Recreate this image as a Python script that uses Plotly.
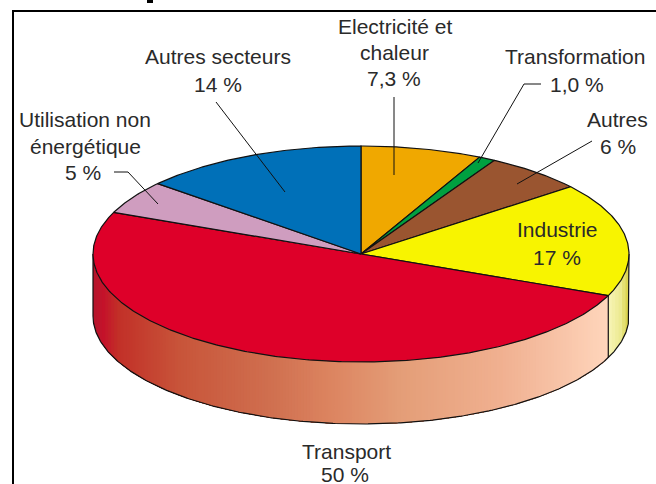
import math
import plotly.graph_objects as go

categories = ["Electricité et chaleur", "Transformation", "Autres", "Industrie",
              "Transport", "Utilisation non énergétique", "Autres secteurs"]
values = [7.3, 1.0, 6, 17, 50, 5, 14]
colors = ["#f0a800", "#00a040", "#9a5530", "#f8f400", "#de0029", "#cf9dbf", "#0070b8"]

# side-wall shading stops: fraction across the visible wall -> colour
wall_stops = {
    "Transport": [(0.0, "#b5162c"), (0.02, "#c4122a"), (0.05, "#c23028"), (0.17, "#c8553a"),
                  (0.35, "#d07050"), (0.46, "#dc8460"), (0.60, "#e49e78"), (0.79, "#f0b090"),
                  (0.91, "#f8c4a8"), (1.0, "#ffd6bc")],
    "Industrie": [(0.0, "#f8f5b8"), (0.6, "#ecea90"), (1.0, "#d6ce40")],
}

label_lines = [
    ("Autres secteurs", 218, 56), ("14 %", 218, 84),
    ("Utilisation non", 85, 119), ("énergétique", 85, 146), ("5 %", 83, 172),
    ("Electricité et", 395, 26), ("chaleur", 394, 52), ("7,3 %", 394, 78),
    ("Transformation", 575, 56), ("1,0 %", 577, 84),
    ("Autres", 617, 119), ("6 %", 618, 146),
    ("Industrie", 557, 229), ("17 %", 557, 257),
    ("Transport", 346, 451), ("50 %", 345, 474),
]
leaders = [
    [(216, 102), (285, 192)],
    [(114, 172), (128, 172), (158, 204)],
    [(394, 97), (394, 175)],
    [(541, 84), (524, 84), (478, 163)],
    [(592, 141), (517, 184)],
]

CX, CY, RX, RY, DEPTH = 361, 254, 268, 108, 62


def pt(deg, dy=0):
    t = math.radians(deg)
    return CX + RX * math.sin(t), CY - RY * math.cos(t) + dy


def hex2rgb(h):
    return tuple(int(h[i:i + 2], 16) for i in (1, 3, 5))


def shade(stops, f):
    for (a, ca), (b, cb) in zip(stops, stops[1:]):
        if f <= b:
            k = (f - a) / (b - a) if b > a else 0
            r1, r2 = hex2rgb(ca), hex2rgb(cb)
            return "rgb(%d,%d,%d)" % tuple(round(p + (q - p) * k) for p, q in zip(r1, r2))
    return stops[-1][1]


edges = [0]
for v in values:
    edges.append(min(360, edges[-1] + v * 3.6))
edges[-1] = 360

fig = go.Figure()
outline = dict(color="#111111", width=1.2)


def wedge_arc(a, b):
    n = max(2, int(abs(b - a)) * 2)
    return [a + (b - a) * i / n for i in range(n + 1)]


# side wall: painted left to right, each strip reaching the wedge's right end so no seams show
for name, a, b in zip(categories, edges[:-1], edges[1:]):
    lo, hi = max(a, 90), min(b, 270)
    if hi <= lo or name not in wall_stops:
        continue
    xa, xb = pt(hi)[0], pt(lo)[0]
    step = 3
    n = max(2, int((xb - xa) / step))
    for i in range(n):
        xs = xa + (xb - xa) * i / n
        # wall angle at this horizontal position
        d0 = 180 - math.degrees(math.asin(max(-1, min(1, (xs - CX) / RX))))
        d0 = max(lo, min(hi, d0)) if lo >= 90 else d0
        arc = wedge_arc(lo, d0)
        top = [pt(d) for d in arc]
        bot = [pt(d, DEPTH) for d in reversed(arc)]
        poly = top + bot + [top[0]]
        fig.add_trace(go.Scatter(x=[p[0] for p in poly], y=[p[1] for p in poly], mode="lines",
                                 fill="toself", fillcolor=shade(wall_stops[name], (i + 0.5) / n),
                                 line=dict(width=0), hoverinfo="skip", showlegend=False))

# wall outlines
arc = wedge_arc(90, 270)
low = [pt(d, DEPTH) for d in arc]
fig.add_trace(go.Scatter(x=[pt(90)[0]] + [p[0] for p in low] + [pt(270)[0]],
                         y=[pt(90)[1]] + [p[1] for p in low] + [pt(270)[1]],
                         mode="lines", line=outline, hoverinfo="skip", showlegend=False))
sep = edges[4]
fig.add_trace(go.Scatter(x=[pt(sep)[0], pt(sep, DEPTH)[0]], y=[pt(sep)[1], pt(sep, DEPTH)[1]],
                         mode="lines", line=outline, hoverinfo="skip", showlegend=False))

# top face wedges
for name, col, a, b in zip(categories, colors, edges[:-1], edges[1:]):
    arc = [pt(d) for d in wedge_arc(a, b)]
    poly = [(CX, CY)] + arc + [(CX, CY)]
    fig.add_trace(go.Scatter(x=[p[0] for p in poly], y=[p[1] for p in poly], mode="lines",
                             fill="toself", fillcolor=col, line=outline, name=name,
                             hoverinfo="name", showlegend=False))

# leader lines
for pts in leaders:
    fig.add_trace(go.Scatter(x=[p[0] for p in pts], y=[p[1] for p in pts], mode="lines",
                             line=dict(color="#111111", width=1), hoverinfo="skip", showlegend=False))

for text, x, y in label_lines:
    fig.add_annotation(x=x, y=y, text=text, showarrow=False, xanchor="center", yanchor="middle",
                       font=dict(family="Liberation Sans", size=21, color="#2a2a2a"))

fig.update_layout(
    width=656, height=484, margin=dict(l=0, r=0, t=0, b=0),
    paper_bgcolor="white", plot_bgcolor="white", showlegend=False,
    xaxis=dict(range=[0, 656], visible=False, fixedrange=True),
    yaxis=dict(range=[484, 0], visible=False, fixedrange=True),
    shapes=[
        dict(type="line", x0=13, x1=13, y0=10, y1=484, line=dict(color="black", width=2)),
        dict(type="line", x0=12, x1=656, y0=11, y1=11, line=dict(color="black", width=2)),
        dict(type="rect", x0=147, x1=153, y0=0, y1=3, fillcolor="black", line=dict(width=0)),
    ],
)
fig.write_html("out.html", config=dict(displayModeBar=False),
               post_script="document.body.style.margin='0';document.body.style.overflow='hidden';")
